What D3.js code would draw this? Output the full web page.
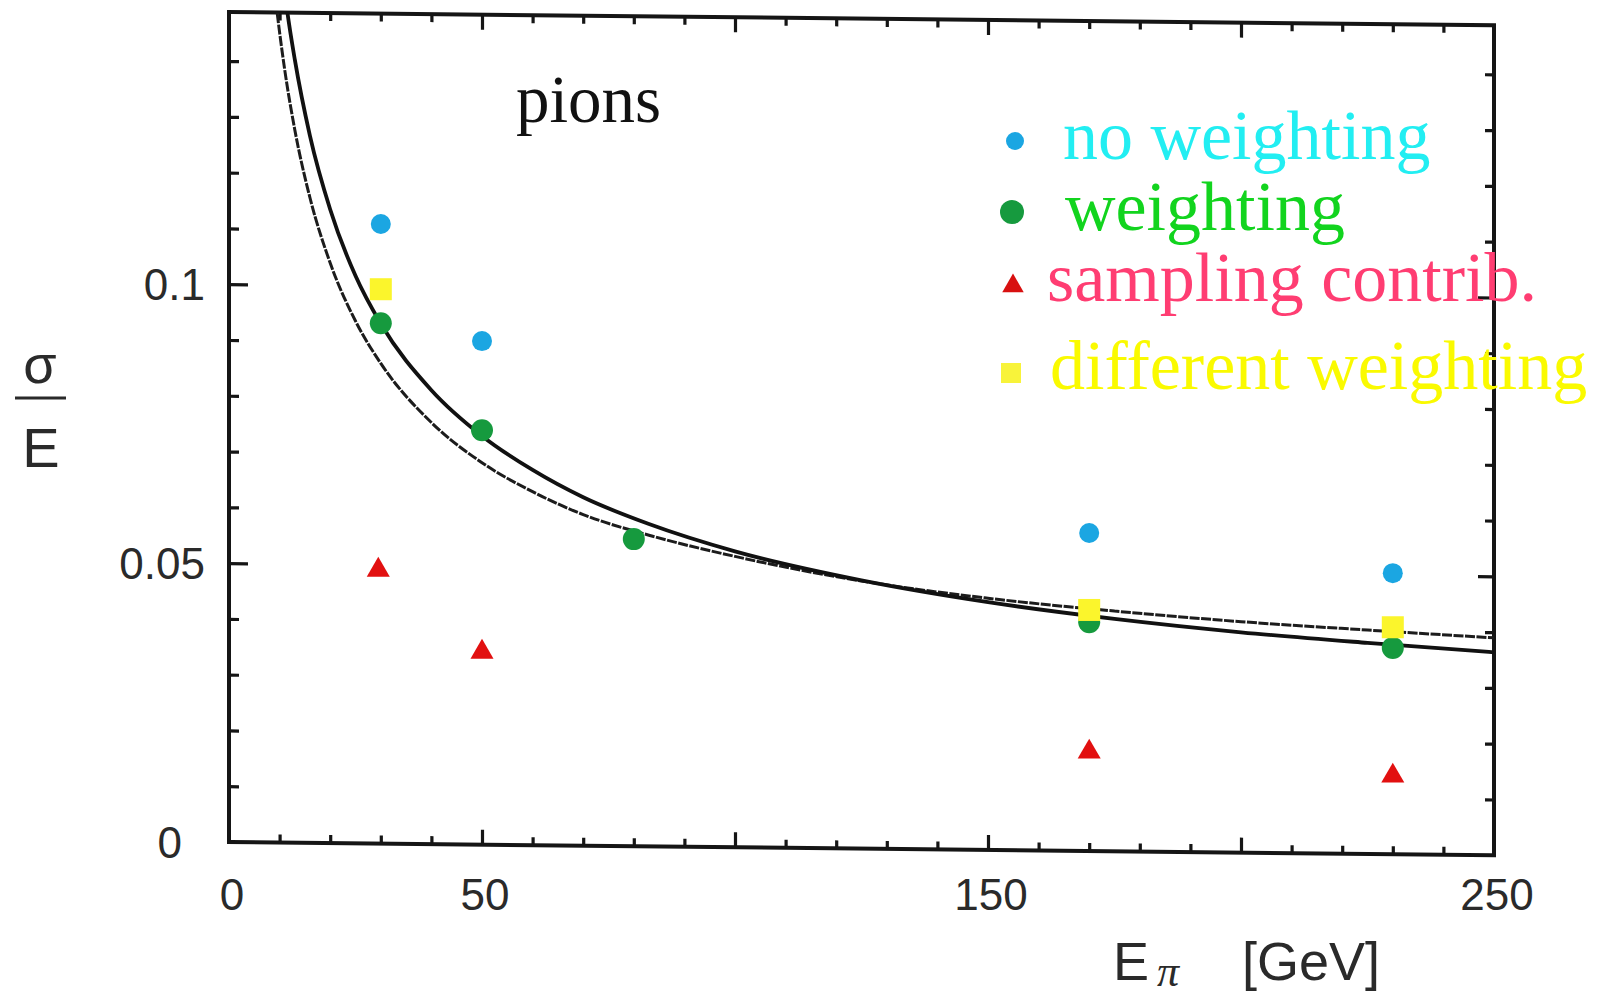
<!DOCTYPE html>
<html><head><meta charset="utf-8">
<script src="https://cdn.jsdelivr.net/npm/d3@7"></script>
<style>html,body{margin:0;padding:0;background:#fff;overflow:hidden} svg{display:block}</style>
</head><body>
<script>
// ---- data ----
const noWeightE   = [30, 50, 170, 230];
const noWeightVal = [0.1108, 0.0898, 0.0554, 0.0482];
const weightE     = [30, 50, 80, 170, 230];
const weightVal   = [0.0930, 0.0738, 0.0543, 0.0394, 0.0348];
const samplingE   = [29.5, 50, 170, 230];
const samplingVal = [0.0491, 0.0344, 0.0165, 0.0122];
const diffE       = [30, 170, 230];
const diffVal     = [0.0991, 0.0416, 0.0385];
// two fitted resolution curves
const fitSolidE   = [11.0, 11.5, 13, 16, 20, 25, 30, 40, 50, 60, 70, 83, 100, 125, 150, 175, 200, 225, 250];
const fitSolidVal = [0.1525, 0.149, 0.1403, 0.1266, 0.1134, 0.1015, 0.0929, 0.0810, 0.0728, 0.0667, 0.0618, 0.0570, 0.0521, 0.0469, 0.0430, 0.0400, 0.0376, 0.0357, 0.0340];
const fitDashE    = [9.0, 9.5, 11, 13, 16, 20, 25, 30, 40, 50, 60, 70, 83, 100, 125, 150, 175, 200, 225, 250];
const fitDashVal  = [0.1527, 0.1488, 0.1385, 0.1277, 0.1155, 0.1038, 0.0934, 0.0858, 0.0752, 0.0680, 0.0628, 0.0587, 0.0550, 0.0512, 0.0468, 0.0437, 0.0414, 0.0395, 0.0380, 0.0366];
const xTickLabels = [0, 50, 150, 250];
const yTickLabels = [0, 0.05, 0.1];
const legendLabels = ["no weighting", "weighting", "sampling contrib.", "different weighting"];
const annotation = "pions";

// ---- layout ----
const W = 1598, H = 999;
const L = 229, R = 1494, T = 12, B = 842;
const x = d3.scaleLinear().domain([0, 250]).range([L, R]);
const y = d3.scaleLinear().domain([0, 0.1488]).range([B, T]);

const svg = d3.select("body").append("svg").attr("width", W).attr("height", H);
svg.append("defs").append("clipPath").attr("id", "plotclip")
  .append("rect").attr("x", L).attr("y", T).attr("width", R - L).attr("height", B - T);

// frame and ticks (slightly skewed like the scanned original)
const s = 0.0105;
const frame = svg.append("g").attr("transform", `matrix(1,${s},0,1,0,${-s * L})`);
const xMinor = d3.range(10, 250, 10).filter(v => v % 50 !== 0);
const xMajor = [50, 100, 150, 200];
const yMinor = d3.range(1, 15).map(v => v / 100).filter(v => Math.abs(v - 0.05) > 1e-9 && Math.abs(v - 0.1) > 1e-9);
const yMajor = [0.05, 0.1];
function styleAxis(g) {
  g.select(".domain").remove();
  g.selectAll("line").attr("stroke", "#151515").attr("stroke-width", 3.2);
}
frame.append("g").attr("transform", `translate(0,${B})`).call(d3.axisBottom(x).tickValues(xMinor).tickSize(-8).tickFormat("")).call(styleAxis);
frame.append("g").attr("transform", `translate(0,${B})`).call(d3.axisBottom(x).tickValues(xMajor).tickSize(-15).tickFormat("")).call(styleAxis);
frame.append("g").attr("transform", `translate(0,${T})`).call(d3.axisTop(x).tickValues(xMinor).tickSize(-8).tickFormat("")).call(styleAxis);
frame.append("g").attr("transform", `translate(0,${T})`).call(d3.axisTop(x).tickValues(xMajor).tickSize(-15).tickFormat("")).call(styleAxis);
frame.append("g").attr("transform", `translate(${L},0)`).call(d3.axisLeft(y).tickValues(yMinor).tickSize(-10).tickFormat("")).call(styleAxis);
frame.append("g").attr("transform", `translate(${L},0)`).call(d3.axisLeft(y).tickValues(yMajor).tickSize(-19).tickFormat("")).call(styleAxis);
frame.append("g").attr("transform", `translate(${R},0)`).call(d3.axisRight(y).tickValues(yMinor).tickSize(-9).tickFormat("")).call(styleAxis);
frame.append("g").attr("transform", `translate(${R},0)`).call(d3.axisRight(y).tickValues(yMajor).tickSize(-16).tickFormat("")).call(styleAxis);
frame.append("rect").attr("x", L).attr("y", T).attr("width", R - L).attr("height", B - T)
  .attr("fill", "none").attr("stroke", "#151515").attr("stroke-width", 4);

// tick labels
const tickFont = "'Liberation Sans', Arial, Helvetica, sans-serif";
svg.append("g").selectAll("text").data(xTickLabels).join("text")
  .attr("x", d => x(d) + 3).attr("y", 910)
  .attr("text-anchor", "middle").attr("font-family", tickFont).attr("font-size", 44).attr("fill", "#2a2a2a")
  .text(d => d);
svg.append("g").selectAll("text").data(yTickLabels).join("text")
  .attr("x", d => d === 0 ? 182 : 205).attr("y", d => y(d) + 16)
  .attr("text-anchor", "end").attr("font-family", tickFont).attr("font-size", 44).attr("fill", "#2a2a2a")
  .text(d => d === 0 ? "0" : String(d));

// axis titles
const yl = svg.append("g").attr("fill", "#2a2a2a").attr("font-family", tickFont);
yl.append("text").attr("x", 40).attr("y", 383).attr("text-anchor", "middle").attr("font-size", 54).text("σ");
yl.append("line").attr("x1", 15).attr("x2", 66).attr("y1", 398).attr("y2", 398).attr("stroke", "#2a2a2a").attr("stroke-width", 3);
yl.append("text").attr("x", 41).attr("y", 467).attr("text-anchor", "middle").attr("font-size", 56).text("E");

const xt = svg.append("text").attr("y", 980).attr("font-family", tickFont).attr("fill", "#2a2a2a").attr("font-size", 54);
xt.append("tspan").attr("x", 1113).text("E");
xt.append("tspan").attr("x", 1157).attr("dy", 6).attr("font-family", "'Liberation Serif', 'DejaVu Serif', serif").attr("font-style", "italic").attr("font-size", 44).text("π");
xt.append("tspan").attr("x", 1242).attr("dy", -6).text("[GeV]");

// annotation
svg.append("text").attr("x", 516).attr("y", 122).attr("font-family", "'Liberation Serif', 'Times New Roman', serif")
  .attr("font-size", 67).attr("fill", "#111").text(annotation);

// curves
const plot = svg.append("g").attr("clip-path", "url(#plotclip)");
const line = d3.line().x(d => x(d[0])).y(d => y(d[1])).curve(d3.curveMonotoneX);
plot.append("path").datum(fitDashE.map((e, i) => [e, fitDashVal[i]])).attr("d", line)
  .attr("fill", "none").attr("stroke", "#1c1c1c").attr("stroke-width", 3).attr("stroke-dasharray", "10,1.5");
plot.append("path").datum(fitSolidE.map((e, i) => [e, fitSolidVal[i]])).attr("d", line)
  .attr("fill", "none").attr("stroke", "#111").attr("stroke-width", 3.8);

// data points
const cBlue = "#1ba6e2", cGreen = "#169a3e", cRed = "#e21010", cYellow = "#fbf52c";
const tri = d3.symbol().type(d3.symbolTriangle).size(230);
svg.append("g").selectAll("circle").data(weightE.map((e, i) => [e, weightVal[i]])).join("circle")
  .attr("cx", d => x(d[0])).attr("cy", d => y(d[1])).attr("r", 11).attr("fill", cGreen);
svg.append("g").selectAll("rect").data(diffE.map((e, i) => [e, diffVal[i]])).join("rect")
  .attr("x", d => x(d[0]) - 11).attr("y", d => y(d[1]) - 11).attr("width", 22).attr("height", 22).attr("fill", cYellow);
svg.append("g").selectAll("circle").data(noWeightE.map((e, i) => [e, noWeightVal[i]])).join("circle")
  .attr("cx", d => x(d[0])).attr("cy", d => y(d[1])).attr("r", 10).attr("fill", cBlue);
svg.append("g").selectAll("path").data(samplingE.map((e, i) => [e, samplingVal[i]])).join("path")
  .attr("transform", d => `translate(${x(d[0])},${y(d[1]) + 2})`).attr("d", tri).attr("fill", cRed);

// legend
const lg = svg.append("g");
const legendMarkX = 1013;
const legendRows = [
  {y: 141, ty: 159, tx: 1063, col: "#22eef2"},
  {y: 212, ty: 230, tx: 1065, col: "#12d41e"},
  {y: 284, ty: 301, tx: 1047, col: "#ff3d72"},
  {y: 373, ty: 389, tx: 1050, col: "#fafa00"}
];
lg.append("circle").attr("cx", legendMarkX + 2).attr("cy", legendRows[0].y).attr("r", 9).attr("fill", cBlue);
lg.append("circle").attr("cx", legendMarkX - 1).attr("cy", legendRows[1].y).attr("r", 12).attr("fill", cGreen);
lg.append("path").attr("transform", `translate(${legendMarkX},${legendRows[2].y + 2})`).attr("d", d3.symbol().type(d3.symbolTriangle).size(200)).attr("fill", "#d81010");
lg.append("rect").attr("x", legendMarkX - 12).attr("y", legendRows[3].y - 10).attr("width", 20).attr("height", 20).attr("fill", "#f8f33a");
lg.selectAll("text").data(legendLabels).join("text")
  .attr("x", (d, i) => legendRows[i].tx).attr("y", (d, i) => legendRows[i].ty)
  .attr("font-family", "'Liberation Serif', 'Times New Roman', serif").attr("font-size", 70)
  .attr("fill", (d, i) => legendRows[i].col).text(d => d);
</script>
</body></html>
